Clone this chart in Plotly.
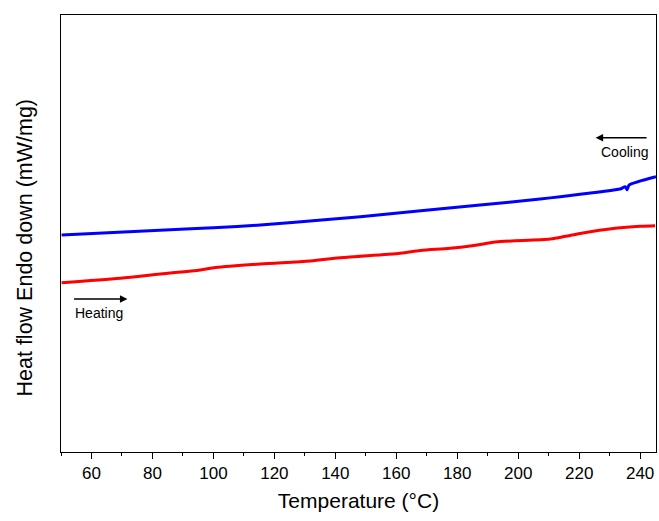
import plotly.graph_objects as go

# DSC traces: temperature (°C) vs heat flow (arbitrary offset, mW/mg)
heating_temp = [50.2, 69.5, 82.6, 95.7, 100.7, 115.4, 131.8, 141.6, 161.3, 167.9,
                177.7, 186.0, 192.5, 210.5, 215.5, 220.3, 231.8, 240.0, 244.9]
heating_flow = [3.874, 3.975, 4.073, 4.165, 4.220, 4.302, 4.371, 4.446, 4.547, 4.612,
                4.661, 4.730, 4.805, 4.874, 4.935, 5.000, 5.119, 5.165, 5.178]

cooling_temp = [50.2, 89.2, 100.0, 115.4, 138.4, 148.2, 187.5, 207.2, 213.8,
                233.4, 235.1, 235.7, 236.4, 245.2]
cooling_flow = [4.966, 5.096, 5.130, 5.195, 5.325, 5.385, 5.652, 5.789, 5.842,
                6.018, 6.071, 6.000, 6.110, 6.300]

x_ticks = [60, 80, 100, 120, 140, 160, 180, 200, 220, 240]

font_family = "Arial, Liberation Sans, sans-serif"

fig = go.Figure()
fig.add_trace(go.Scatter(x=cooling_temp, y=cooling_flow, mode="lines",
                         line=dict(color="#0000FF", width=3, shape="spline",
                                   smoothing=0.5), name="Cooling"))
fig.add_trace(go.Scatter(x=heating_temp, y=heating_flow, mode="lines",
                         line=dict(color="#FF0000", width=3, shape="spline",
                                   smoothing=0.8), name="Heating"))

annotations = [
    # Heating arrow and label
    dict(x=71.8, y=3.50, ax=53.8, ay=3.50, xref="x", yref="y", axref="x", ayref="y",
         text="", showarrow=True, arrowhead=2, arrowsize=1, arrowwidth=1.5,
         arrowcolor="black"),
    dict(x=53.8, y=3.18, xref="x", yref="y", text="Heating", showarrow=False,
         xanchor="left", yanchor="middle", font=dict(size=14, color="black")),
    # Cooling arrow and label
    dict(x=225.4, y=7.19, ax=242.6, ay=7.19, xref="x", yref="y", axref="x", ayref="y",
         text="", showarrow=True, arrowhead=2, arrowsize=1, arrowwidth=1.5,
         arrowcolor="black"),
    dict(x=243.3, y=6.865, xref="x", yref="y", text="Cooling", showarrow=False,
         xanchor="right", yanchor="middle", font=dict(size=14, color="black")),
    # Vertical axis title
    dict(x=-0.0605, y=0.468, xref="paper", yref="paper",
         text="Heat flow Endo down (mW/mg)", textangle=-90, showarrow=False,
         xanchor="center", yanchor="middle", font=dict(size=21.5, color="black")),
]

fig.update_layout(
    width=659, height=521,
    margin=dict(l=61, r=3, t=15, b=69),
    paper_bgcolor="white", plot_bgcolor="white",
    showlegend=False,
    font=dict(family=font_family, color="black"),
    annotations=annotations,
    xaxis=dict(
        range=[50, 245.2], tickvals=x_ticks, ticks="outside", ticklen=6,
        tickwidth=1, tickcolor="black", showline=True, linecolor="black",
        linewidth=1, mirror=True, showgrid=False, zeroline=False,
        tickfont=dict(size=17),
        minor=dict(dtick=10, tick0=50, ticks="outside", ticklen=3,
                   tickcolor="black", showgrid=False),
        title=dict(text="Temperature (°C)", font=dict(size=21), standoff=10),
    ),
    yaxis=dict(
        range=[0, 10], showticklabels=False, ticks="", showline=True,
        linecolor="black", linewidth=1, mirror=True, showgrid=False,
        zeroline=False,
    ),
)

fig.write_html("out.html")
